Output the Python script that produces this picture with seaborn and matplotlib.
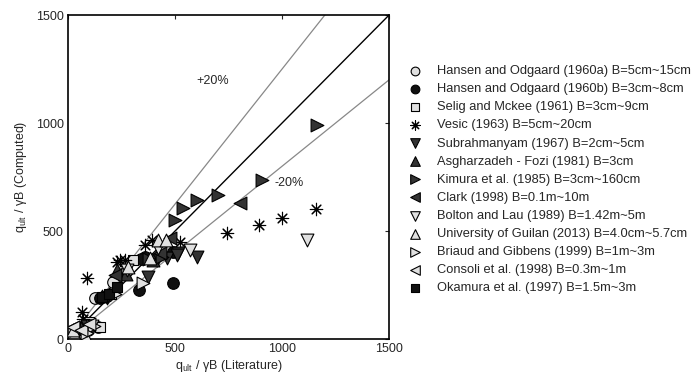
import numpy as np
import pandas as pd
import matplotlib
matplotlib.use("Agg")
import matplotlib.pyplot as plt
import seaborn as sns

sns.set_style("white")
plt.rcParams['font.family'] = ['Liberation Sans', 'DejaVu Sans']
plt.rcParams['mathtext.fontset'] = 'custom'
plt.rcParams['mathtext.rm'] = 'Liberation Sans'
plt.rcParams['mathtext.it'] = 'Liberation Sans'

labels = [
    "Hansen and Odgaard (1960a) B=5cm~15cm",
    "Hansen and Odgaard (1960b) B=3cm~8cm",
    "Selig and Mckee (1961) B=3cm~9cm",
    "Vesic (1963) B=5cm~20cm",
    "Subrahmanyam (1967) B=2cm~5cm",
    "Asgharzadeh - Fozi (1981) B=3cm",
    "Kimura et al. (1985) B=3cm~160cm",
    "Clark (1998) B=0.1m~10m",
    "Bolton and Lau (1989) B=1.42m~5m",
    "University of Guilan (2013) B=4.0cm~5.7cm",
    "Briaud and Gibbens (1999) B=1m~3m",
    "Consoli et al. (1998) B=0.3m~1m",
    "Okamura et al. (1997) B=1.5m~3m",
]

hansen_a_x = [70, 140, 126, 212, 95, 180, 250]
hansen_a_y = [28, 57, 190, 265, 40, 200, 300]
hansen_b_x = [492, 333, 360, 492, 150, 340]
hansen_b_y = [258, 227, 381, 404, 190, 370]
selig_x = [305, 150, 100, 200, 60]
selig_y = [366, 57, 80, 210, 40]
vesic_x = [741, 893, 998, 1157, 523, 87, 243, 266, 360, 391, 64, 230, 70]
vesic_y = [489, 528, 559, 602, 450, 281, 366, 366, 435, 458, 126, 355, 95]
subra_x = [601, 515, 461, 374, 414, 508, 180, 90]
subra_y = [378, 398, 375, 288, 366, 389, 190, 60]
asghar_x = [227, 399, 270, 160, 60]
asghar_y = [319, 366, 300, 200, 50]
kimura_x = [500, 537, 603, 700, 906, 1162, 380, 440]
kimura_y = [551, 606, 644, 667, 736, 991, 370, 380]
clark_x = [804, 477, 220, 23, 430]
clark_y = [630, 467, 296, 56, 400]
bolton_x = [1115, 570, 274, 110, 420]
bolton_y = [458, 412, 319, 60, 420]
guilan_x = [422, 383, 280, 25, 80, 460]
guilan_y = [458, 375, 334, 40, 20, 460]
briaud_x = [352, 220, 120, 90]
briaud_y = [258, 210, 60, 30]
consoli_x = [25, 60, 100]
consoli_y = [57, 40, 70]
okamura_x = [157, 190, 230]
okamura_y = [196, 210, 240]

series = [
    (hansen_a_x, hansen_a_y), (hansen_b_x, hansen_b_y), (selig_x, selig_y),
    (vesic_x, vesic_y), (subra_x, subra_y), (asghar_x, asghar_y),
    (kimura_x, kimura_y), (clark_x, clark_y), (bolton_x, bolton_y),
    (guilan_x, guilan_y), (briaud_x, briaud_y), (consoli_x, consoli_y),
    (okamura_x, okamura_y),
]

light = "#e0e0e0"
dark = "#333333"
styles = [
    dict(marker="o", color=light, s=70),
    dict(marker="o", color="#111111", s=70),
    dict(marker="s", color=light, s=55),
    dict(marker=(8, 2, 0), color="black", s=80),
    dict(marker="v", color=dark, s=85),
    dict(marker="^", color=dark, s=85),
    dict(marker=">", color=dark, s=85),
    dict(marker="<", color=dark, s=85),
    dict(marker="v", color=light, s=85),
    dict(marker="^", color=light, s=85),
    dict(marker=">", color=light, s=85),
    dict(marker="<", color=light, s=85),
    dict(marker="s", color="#111111", s=55),
]

fig = plt.figure(figsize=(6.94, 3.78), dpi=100)
ax = fig.add_axes([0.098, 0.103, 0.4625, 0.857])

lx = np.array([0, 1500])
ax.plot(lx, lx, color="black", lw=1.0, zorder=1)
ax.plot(lx, 1.25 * lx, color="#888888", lw=0.9, zorder=1)
ax.plot(lx, 0.8 * lx, color="#888888", lw=0.9, zorder=1)

for (xs, ys), lab, st in zip(series, labels, styles):
    df = pd.DataFrame({"x": xs, "y": ys})
    sns.scatterplot(data=df, x="x", y="y", ax=ax, marker=st["marker"],
                    color=st["color"], s=st["s"], edgecolor="black",
                    linewidth=0.8, label=lab, zorder=3)

ax.text(600, 1180, "+20%", fontsize=9)
ax.text(965, 710, "-20%", fontsize=9)

ax.set_xlim(0, 1500)
ax.set_ylim(0, 1500)
ax.set_xticks([0, 500, 1000, 1500])
ax.set_yticks([0, 500, 1000, 1500])
ax.tick_params(direction="in", length=3, width=0.8, labelsize=9,
               top=True, right=True, pad=3)
for sp in ax.spines.values():
    sp.set_linewidth(1.2)
    sp.set_color("black")
ax.set_xlabel(r"$\mathregular{q_{ult}}$ / γB (Literature)", fontsize=9, labelpad=2)
ax.set_ylabel(r"$\mathregular{q_{ult}}$ / γB (Computed)", fontsize=9, labelpad=5)

handles, labs = ax.get_legend_handles_labels()
ax.get_legend().remove()
fig.legend(handles, labs, loc="upper left", bbox_to_anchor=(0.589, 0.828),
           frameon=False, fontsize=9.3, handletextpad=1.15, labelspacing=0.47,
           borderaxespad=0, borderpad=0, handlelength=1.0, markerscale=0.75)

fig.savefig("out.png", dpi=100)
